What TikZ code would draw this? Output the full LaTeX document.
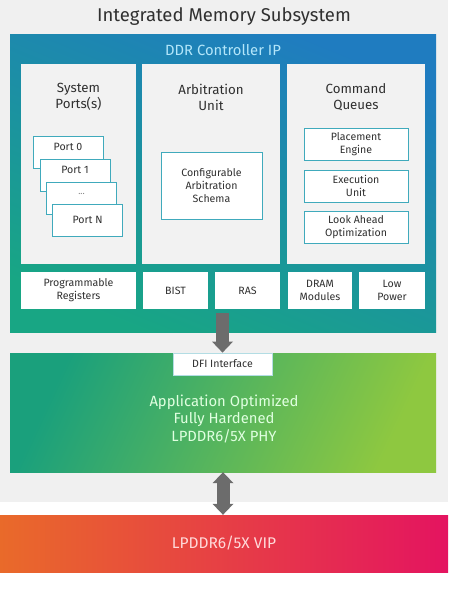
\documentclass[tikz,border=0pt]{standalone}
\usepackage{fontspec}
\setmainfont{Fira Sans}
\usepackage{xcolor}
\definecolor{fondo}{RGB}{240,240,240}
\definecolor{panel}{RGB}{242,242,242}
\definecolor{ddrazul}{RGB}{31,124,192}
\definecolor{ddrteal}{RGB}{24,166,132}
\definecolor{borde}{RGB}{64,170,188}
\definecolor{phyteal}{RGB}{26,160,124}
\definecolor{phylima}{RGB}{142,200,64}
\definecolor{vipnar}{RGB}{233,106,42}
\definecolor{viprojo}{RGB}{230,40,62}
\definecolor{vipmag}{RGB}{228,20,96}
\definecolor{flecha}{RGB}{108,108,108}
\definecolor{texto}{RGB}{48,48,48}
\usepackage{tikz}
\usetikzlibrary{arrows.meta,calc,positioning}

\begin{document}
\begin{tikzpicture}[x=1pt,y=-1pt,
    caja/.style={rectangle,inner sep=0pt,draw=borde,line width=0.8pt,fill=white,
      text=texto,font=\fontsize{10.6}{13}\selectfont,align=center},
    pie/.style={rectangle,inner sep=0pt,fill=white,minimum height=37pt,
      text=texto,font=\fontsize{10.6}{13}\selectfont,align=center},
    columna/.style={rectangle,inner sep=0pt,fill=panel,minimum width=138pt,minimum height=200pt},
    titulo/.style={text=texto,font=\fontsize{13.3}{16}\selectfont,align=center},
    flechota/.style={line width=13pt,draw=flecha}]
    \fill[fondo] (0,0) rectangle (448,502);
    \useasboundingbox (0,0) rectangle (448,596);
    \node[text=texto,font=\fontsize{18.5}{22}\selectfont] (title) at (224,17) {Integrated Memory Subsystem};
    % controlador DDR
    \node[rectangle,inner sep=0pt,minimum width=426pt,minimum height=297pt,
      top color=ddrazul,bottom color=ddrteal,shading angle=-22] (ddr) at (223,183.5) {};
    \node[text=cyan!30!white,font=\fontsize{14.8}{17}\selectfont] (ddrlbl) at (223,50) {DDR Controller IP};
    \node[columna,minimum width=115pt] (ports) at (78.5,164) {};
    \node[columna] (arb) at (211,164) {};
    \node[columna] (cmd) at (356,164) {};
    \node[titulo] (portstit) at (78.5,97) {System\\Ports(s)};
    \node[titulo] (arbtit) at (211,97) {Arbitration\\Unit};
    \node[titulo] (cmdtit) at (356,97) {Command\\Queues};
    % puertos
    \node[caja,minimum width=70pt,minimum height=32pt] (port0) at (68,152) {};
    \node[caja,minimum width=70pt,minimum height=32pt] (port1) at (75,175) {};
    \node[caja,minimum width=70pt,minimum height=32pt] (portd) at (81.5,198) {};
    \node[caja,minimum width=70pt,minimum height=32pt] (portN) at (87.5,220) {Port N};
    \node[text=texto,font=\fontsize{10.6}{13}\selectfont] (p0lbl) at ([yshift=-11.5pt]port0.north) {Port 0};
    \node[text=texto,font=\fontsize{10.6}{13}\selectfont] (p1lbl) at ([yshift=-11.5pt]port1.north) {Port 1};
    \node[text=texto!60,font=\fontsize{9}{11}\selectfont] (pdlbl) at ([yshift=-12pt]portd.north) {...};
    % arbitraje y colas
    \node[caja,minimum width=101pt,minimum height=67pt] (schema) at (211.5,185.5) {Configurable\\Arbitration\\Schema};
    \node[caja,minimum width=104pt,minimum height=32pt] (place) at (356,144) {Placement\\Engine};
    \node[caja,minimum width=104pt,minimum height=32pt] (exec) at (356,186) {Execution\\Unit};
    \node[caja,minimum width=104pt,minimum height=32pt] (look) at (356,227.5) {Look Ahead\\Optimization};
    % fila inferior
    \node[pie,minimum width=115pt] (progreg) at (78.5,290.5) {Programmable\\Registers};
    \node[pie,minimum width=65pt] (bist) at (175.5,290.5) {BIST};
    \node[pie,minimum width=65pt] (ras) at (247.5,290.5) {RAS};
    \node[pie,minimum width=64pt] (dram) at (320,290.5) {DRAM\\Modules};
    \node[pie,minimum width=66pt] (lowpow) at (392,290.5) {Low\\Power};
    % PHY
    \node[rectangle,inner sep=0pt,minimum width=426pt,minimum height=119pt,
      left color=phyteal,right color=phylima,shading angle=65] (phy) at (223,412.5) {};
    \node[caja,draw=borde!40,minimum width=99pt,minimum height=22pt] (dfi) at (222.5,364) {DFI Interface};
    \node[text=green!12!white,font=\fontsize{14.8}{17.5}\selectfont,align=center] (phylbl) at (224,418.5)
      {Application Optimized\\Fully Hardened\\LPDDR6/5X PHY};
    % VIP
    \node[rectangle,inner sep=0pt,minimum width=448pt,minimum height=57pt,
      left color=vipnar,middle color=viprojo,right color=vipmag] (vip) at (224,543.5) {};
    \node[text=red!15!white,font=\fontsize{15.5}{18}\selectfont] (viplbl) at (224,543.5) {LPDDR6/5X VIP};
    % flechas
    \coordinate (cola) at (222.5,313);
    \draw[flechota,-{Triangle[width=21pt,length=11pt,line width=0pt]}] (cola) -- (dfi.north);
    \draw[flechota,{Triangle[width=21pt,length=11pt,line width=0pt]}-{Triangle[width=21pt,length=11pt,line width=0pt]}]
      (phy.south) -- (phy.south |- vip.north);
\end{tikzpicture}
\end{document}
